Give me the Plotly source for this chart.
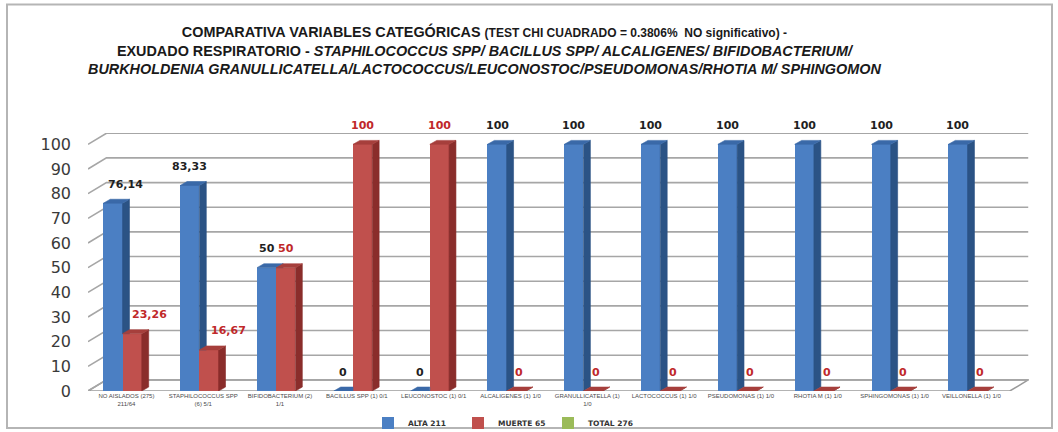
import plotly.graph_objects as go

# ---- data -------------------------------------------------------------
categories = [
    "NO AISLADOS (275)<br>211/64",
    "STAPHILOCOCCUS SPP<br>(6) 5/1",
    "BIFIDOBACTERIUM (2)<br>1/1",
    "BACILLUS SPP (1) 0/1",
    "LEUCONOSTOC (1) 0/1",
    "ALCALIGENES (1) 1/0",
    "GRANULLICATELLA (1)<br>1/0",
    "LACTOCOCCUS (1) 1/0",
    "PSEUDOMONAS (1) 1/0",
    "RHOTIA M (1) 1/0",
    "SPHINGOMONAS (1) 1/0",
    "VEILLONELLA (1) 1/0",
]
alta = [76.14, 83.33, 50, 0, 0, 100, 100, 100, 100, 100, 100, 100]
muerte = [23.26, 16.67, 50, 100, 100, 0, 0, 0, 0, 0, 0, 0]
total = [None] * len(categories)
y_ticks = list(range(0, 101, 10))

series_names = ["ALTA 211", "MUERTE 65", "TOTAL 276"]

# ---- geometry of the pseudo-3D look ---------------------------------
W, H = 1058, 432
PL, PR, PT, PB = 88, 1029, 132.6, 391          # plot area in pixels
N = len(categories)
X_RANGE = [-0.5, N - 0.5 + 0.25]
Y_RANGE = [0, 104.6]

BAR_W = 0.25
BLUE_OFF, RED_OFF = -0.30, -0.05
DX, DY = 0.09, 1.6            # depth of each bar (category units, value units)
WX, WY = 0.24, 4.5            # depth of the floor / back wall

BLUE = dict(front="#4b7fc3", side="#2b5385", top="#3a69a8")
RED = dict(front="#c0504d", side="#8a2d2b", top="#a63f3c")
GREEN = "#9bbb59"

# horizontal nudges (px) for value labels that would sit on a neighbouring bar
LABEL_NUDGE = {("alta", 0): 13, ("muerte", 0): 17, ("muerte", 1): 20}


def px2x(px):
    return (px - PL) / (PR - PL)


def py2y(py):
    return (PB - py) / (PB - PT)


def clip(poly, inside, intersect):
    """Sutherland-Hodgman clip of a polygon against one half-plane."""
    out = []
    for i in range(len(poly)):
        cur, prev = poly[i], poly[i - 1]
        if inside(cur):
            if not inside(prev):
                out.append(intersect(prev, cur))
            out.append(cur)
        elif inside(prev):
            out.append(intersect(prev, cur))
    return out


def clip_y_above(poly, y0):
    def inter(a, b):
        t = (y0 - a[1]) / (b[1] - a[1])
        return (a[0] + t * (b[0] - a[0]), y0)
    return clip(poly, lambda p: p[1] >= y0, inter)


def clip_x_left(poly, x0):
    def inter(a, b):
        t = (x0 - a[0]) / (b[0] - a[0])
        return (x0, a[1] + t * (b[1] - a[1]))
    return clip(poly, lambda p: p[0] <= x0, inter)


def poly_trace(polys, color):
    xs, ys = [], []
    for p in polys:
        if len(p) < 3:
            continue
        xs += [q[0] for q in p] + [p[0][0], None]
        ys += [q[1] for q in p] + [p[0][1], None]
    return go.Scatter(x=xs, y=ys, mode="lines", fill="toself", fillcolor=color,
                      line=dict(color=color, width=0.6), hoverinfo="skip",
                      showlegend=False)


fig = go.Figure()

xs = list(range(N))
fig.add_trace(go.Bar(x=xs, y=alta, name=series_names[0], width=BAR_W, offset=BLUE_OFF,
                     marker=dict(color=BLUE["front"], line=dict(width=0))))
fig.add_trace(go.Bar(x=xs, y=muerte, name=series_names[1], width=BAR_W, offset=RED_OFF,
                     marker=dict(color=RED["front"], line=dict(width=0))))
fig.add_trace(go.Bar(x=xs, y=total, name=series_names[2], width=BAR_W, offset=RED_OFF + BAR_W,
                     marker=dict(color=GREEN, line=dict(width=0))))

# side and top faces of the blue bars (partly hidden behind the red front)
b_sides, b_tops = [], []
for c, (b, r) in enumerate(zip(alta, muerte)):
    x0 = c + BLUE_OFF
    xr = x0 + BAR_W
    side = [(xr, 0), (xr + DX, DY), (xr + DX, b + DY), (xr, b)]
    top = [(x0, b), (xr, b), (xr + DX, b + DY), (x0 + DX, b + DY)]
    if r > 0:
        side = clip_y_above(side, r)
    if r >= b + DY:
        top = clip_x_left(top, xr)
    b_sides.append(side)
    b_tops.append(top)
fig.add_trace(poly_trace(b_sides, BLUE["side"]))
fig.add_trace(poly_trace(b_tops, BLUE["top"]))

# side and top faces of the red bars
r_sides, r_tops = [], []
for c, r in enumerate(muerte):
    x0 = c + RED_OFF
    xr = x0 + BAR_W
    r_sides.append([(xr, 0), (xr + DX, DY), (xr + DX, r + DY), (xr, r)])
    r_tops.append([(x0, r), (xr, r), (xr + DX, r + DY), (x0 + DX, r + DY)])
fig.add_trace(poly_trace(r_sides, RED["side"]))
fig.add_trace(poly_trace(r_tops, RED["top"]))


def fmt(v):
    return f"{v:g}".replace(".", ",")


annotations = []
for c, (b, r) in enumerate(zip(alta, muerte)):
    annotations.append(dict(x=c + BLUE_OFF + BAR_W / 2, y=b, xref="x", yref="y",
                            text=f"<b>{fmt(b)}</b>", showarrow=False, yshift=19,
                            xshift=LABEL_NUDGE.get(("alta", c), 0),
                            font=dict(family="DejaVu Sans", size=11, color="#1f1f1f")))
    annotations.append(dict(x=c + RED_OFF + BAR_W / 2, y=r, xref="x", yref="y",
                            text=f"<b>{fmt(r)}</b>", showarrow=False, yshift=19,
                            xshift=LABEL_NUDGE.get(("muerte", c), 3 if r == 0 else 0),
                            font=dict(family="DejaVu Sans", size=11, color="#c0282a")))

title_html = (
    "<b>COMPARATIVA VARIABLES CATEGÓRICAS "
    "<span style='font-size:12px'>(TEST CHI CUADRADO = 0.3806%  NO significativo) -</span></b><br>"
    "<b>EXUDADO RESPIRATORIO - <i>STAPHILOCOCCUS SPP/ BACILLUS SPP/ ALCALIGENES/ BIFIDOBACTERIUM/</i></b><br>"
    "<b><i>BURKHOLDENIA GRANULLICATELLA/LACTOCOCCUS/LEUCONOSTOC/PSEUDOMONAS/RHOTIA M/ SPHINGOMON</i></b>"
)
annotations.append(dict(x=px2x(484), y=py2y(20), xref="paper", yref="paper",
                        xanchor="center", yanchor="top", showarrow=False,
                        text=title_html, align="center",
                        font=dict(family="Liberation Sans", size=14.4, color="#1a1a1a")))

shapes = []
# floor
shapes.append(dict(type="path", xref="x", yref="y", layer="below",
                   path=f"M -0.5,0 L {N - 0.5},0 L {N - 0.5 + WX},{WY} L {-0.5 + WX},{WY} Z",
                   fillcolor="#ffffff", line=dict(color="#9a9a9a", width=1.5)))
# back-wall gridlines with their left-wall returns
for v in y_ticks:
    shapes.append(dict(type="path", xref="x", yref="y", layer="below",
                       path=f"M -0.5,{v} L {-0.5 + WX},{v + WY} L {N - 0.5 + WX},{v + WY}",
                       line=dict(color="#a6a6a6", width=1.6)))
# outer frame
shapes.append(dict(type="rect", xref="paper", yref="paper",
                   x0=px2x(7), x1=px2x(1052), y0=py2y(428), y1=py2y(4),
                   line=dict(color="#b5b5b5", width=2), fillcolor="rgba(0,0,0,0)"))

fig.update_layout(
    width=W, height=H,
    margin=dict(l=PL, r=W - PR, t=PT, b=H - PB, pad=0, autoexpand=False),
    paper_bgcolor="white", plot_bgcolor="rgba(0,0,0,0)",
    barmode="overlay", bargap=0,
    showlegend=True,
    legend=dict(orientation="h", x=px2x(503), y=py2y(423), xanchor="center", yanchor="middle",
                font=dict(family="DejaVu Sans", size=7.5, color="#333333", weight="bold"),
                itemwidth=30, entrywidth=45, traceorder="normal", bgcolor="rgba(0,0,0,0)"),
    annotations=annotations,
    shapes=shapes,
    xaxis=dict(range=X_RANGE, tickmode="array", tickvals=xs, ticktext=categories,
               showgrid=False, zeroline=False, showline=False, ticks="",
               tickfont=dict(family="Liberation Sans", size=6, color="#4a4a4a"),
               tickangle=0, fixedrange=True),
    yaxis=dict(range=Y_RANGE, tickmode="array", tickvals=y_ticks,
               showgrid=False, zeroline=False, showline=False, ticks="",
               ticklabelstandoff=16,
               tickfont=dict(family="DejaVu Sans", size=16, color="#3a3a3a"),
               fixedrange=True),
)

fig.write_html("out.html")
